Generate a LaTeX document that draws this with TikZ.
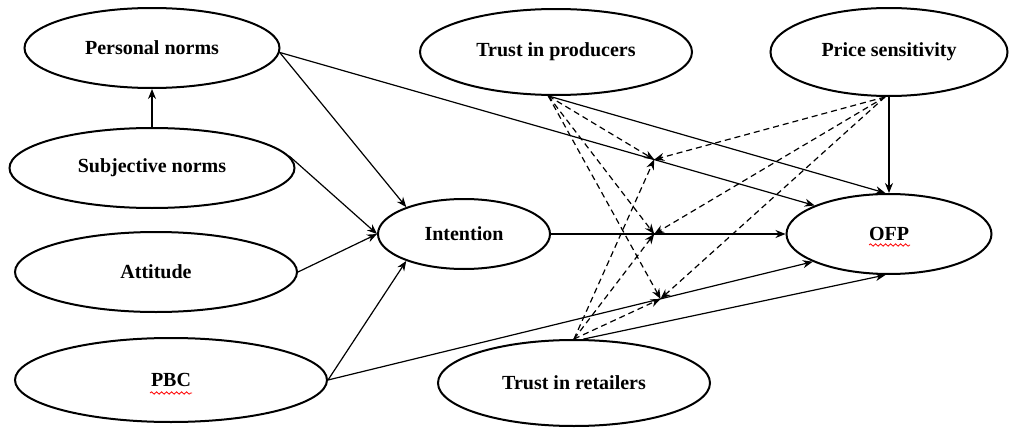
\documentclass[tikz,border=0pt]{standalone}
\usepackage{fontspec}
\setmainfont{Liberation Serif}
\usetikzlibrary{shapes.geometric,arrows.meta,decorations.pathmorphing,calc}

\begin{document}
\begin{tikzpicture}[x=0.5pt,y=-0.5pt,
        latent/.style={ellipse, draw, line width=1pt, inner sep=0pt, font=\bfseries},
        path/.style={->, line width=0.6pt},
        moder/.style={->, line width=0.6pt, dash pattern=on 3pt off 2pt},
        spell/.style={red, line width=0.4pt, decorate, decoration={snake, amplitude=0.6pt, segment length=2.5pt}},
        >={Stealth[length=5pt,width=4pt]}]
        \useasboundingbox (0,0) rectangle (1019,428);

        % TPB constructs
        \node[latent, minimum width=127.5pt, minimum height=40pt] (pn) at (152,48) {Personal norms};
        \node[latent, minimum width=142.5pt, minimum height=40pt] (sn) at (152,168) {Subjective norms};
        \node[latent, minimum width=141pt, minimum height=40pt] (att) at (156,272) {Attitude};
        \node[latent, minimum width=156pt, minimum height=42pt] (pbc) at (171,380) {PBC};
        \node[latent, minimum width=86pt, minimum height=35pt] (int) at (464,234) {Intention};

        % Moderators and outcome
        \node[latent, minimum width=136pt, minimum height=43pt] (tp) at (556,52) {Trust in producers};
        \node[latent, minimum width=118.5pt, minimum height=44pt] (ps) at (889,52) {Price sensitivity};
        \node[latent, minimum width=102.5pt, minimum height=40pt] (ofp) at (889,234) {OFP};
        \node[latent, minimum width=136pt, minimum height=43pt] (tr) at (574,383) {Trust in retailers};

        % Paths to intention
        \draw[path] (sn.north) -- (pn.south);
        \draw[path] (pn.-2) -- (int.155);
        \draw[path] (sn.5) -- (int.west);
        \draw[path] (att.east) -- (int.west);
        \draw[path] (pbc.east) -- (int.205);

        % Paths to OFP
        \draw[path] (pn.-2) -- (ofp.159) coordinate[pos=0.7] (m1);
        \draw[path] (int.east) -- (ofp.west) coordinate[pos=0.44] (m2);
        \draw[path] (pbc.east) -- (ofp.200) coordinate[pos=0.686] (m3);
        \draw[path] (tp.260) -- (ofp.95);
        \draw[path] (ps.south) -- (ofp.north);
        \draw[path] (tr.78) -- (ofp.265);

        % Moderating effects
        \foreach \m in {m1,m2,m3} {
            \draw[moder] (tp.260) -- (\m);
            \draw[moder] (ps.265) -- (\m);
            \draw[moder] (tr.north) -- (\m);
        }

        % Spell-check marks
        \draw[spell] ($(ofp)+(-20,11)$) -- ($(ofp)+(21,11)$);
        \draw[spell] ($(pbc)+(-21,13)$) -- ($(pbc)+(21,13)$);
    \end{tikzpicture}
\end{document}
